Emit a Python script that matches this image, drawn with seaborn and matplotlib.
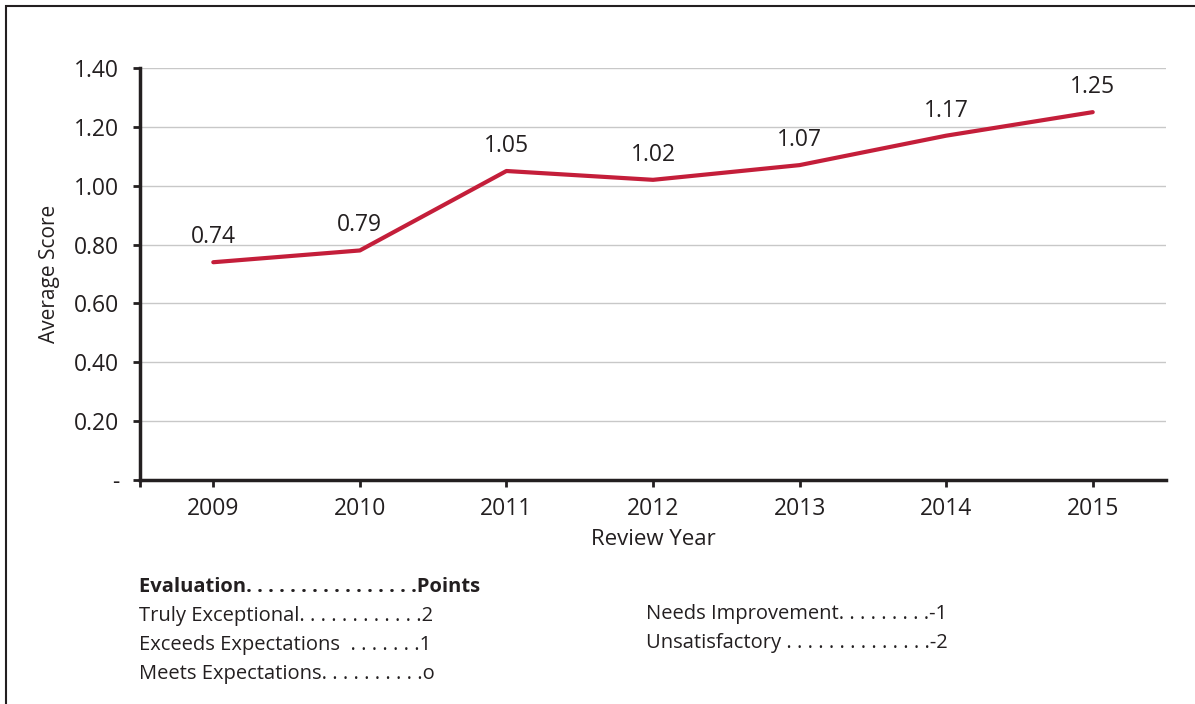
import matplotlib
matplotlib.use("Agg")
import matplotlib.pyplot as plt
import seaborn as sns
import pandas as pd
from matplotlib.patches import Rectangle

# data
years = ["2009", "2010", "2011", "2012", "2013", "2014", "2015"]
scores = [0.74, 0.78, 1.05, 1.02, 1.07, 1.17, 1.25]
score_labels = ["0.74", "0.79", "1.05", "1.02", "1.07", "1.17", "1.25"]
yticks = [0, 0.2, 0.4, 0.6, 0.8, 1.0, 1.2, 1.4]
ytick_labels = ["-", "0.20", "0.40", "0.60", "0.80", "1.00", "1.20", "1.40"]

key_header = ("Evaluation", 16, "Points")
key_left = [("Truly Exceptional", 12, "2"),
            ("Exceeds Expectations  ", 7, "1"),
            ("Meets Expectations", 10, "o")]
key_right = [("Needs Improvement", 9, "-1"),
             ("Unsatisfactory ", 14, "-2")]


def dotted(name, n, pts):
    return name + " ".join(["."] * n) + pts


df = pd.DataFrame({"year": years, "score": scores})

sns.set_theme(style="white")
plt.rcParams['font.family'] = ['Open Sans', 'DejaVu Sans']
dark = "#231F20"
red = "#C41E3A"

fig = plt.figure(figsize=(11.95, 7.04), dpi=100)
ax = fig.add_axes([140/1195, 1-480/704, (1166-140)/1195, (480-68)/704])

sns.lineplot(data=df, x="year", y="score", color=red, linewidth=3, ax=ax, sort=False)

for i, (v, lab) in enumerate(zip(scores, score_labels)):
    ax.annotate(lab, (i, v), xytext=(0, 18), textcoords="offset points",
                ha="center", va="center", fontsize=16.5, color=dark)

ax.set_xlim(-0.5, 6.5)
ax.set_ylim(0, 1.4)
ax.set_yticks(yticks)
ax.set_yticklabels(ytick_labels)
ax.set_xticks(range(len(years)))
ax.set_xticks([-0.5], minor=True)
ax.yaxis.grid(True, color="#C8C8C8", linewidth=1)
ax.xaxis.grid(False)
for s in ["top", "right"]:
    ax.spines[s].set_visible(False)
for s in ["left", "bottom"]:
    ax.spines[s].set_color(dark)
    ax.spines[s].set_linewidth(2.5)
ax.tick_params(axis="y", which="major", direction="out", length=5, width=2,
               color=dark, labelsize=16.5, labelcolor=dark, pad=10, left=True)
ax.tick_params(axis="x", which="both", direction="out", length=5, width=2,
               color=dark, labelsize=16.5, labelcolor=dark, pad=7, bottom=True)
ax.set_xlabel("Review Year", fontsize=16, color=dark, labelpad=6)
ax.set_ylabel("Average Score", fontsize=15, color=dark, labelpad=10)

# evaluation key
fig.text(139/1195, 1-587/704, dotted(*key_header), fontsize=14.5,
         fontweight="bold", color=dark, va="center", ha="left")
for j, row in enumerate(key_left):
    fig.text(139/1195, 1-(616+29*j)/704, dotted(*row), fontsize=14.5,
             color=dark, va="center", ha="left")
for j, row in enumerate(key_right):
    fig.text(646/1195, 1-(614+29*j)/704, dotted(*row), fontsize=14.5,
             color=dark, va="center", ha="left")

# outer frame
fig.patches.append(Rectangle((6/1195, -0.1), 1.2, 1-6/704+0.1, transform=fig.transFigure,
                             fill=False, edgecolor=dark, linewidth=1.5))

fig.savefig("out.png", dpi=100)
